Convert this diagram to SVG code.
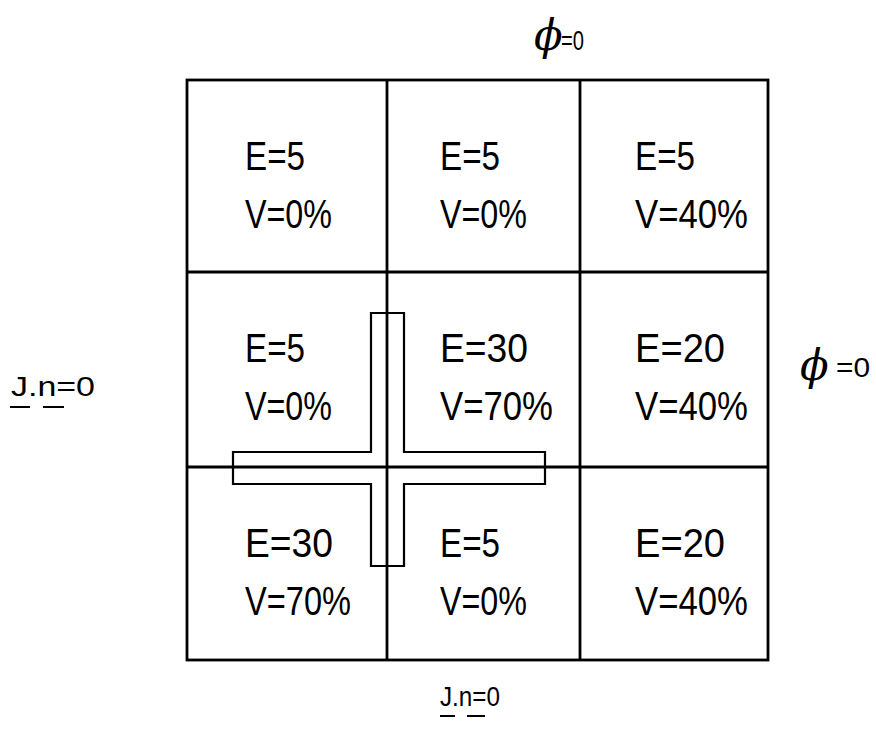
<svg xmlns="http://www.w3.org/2000/svg" width="876" height="741" viewBox="0 0 876 741">
<style>
.grid{fill:none;stroke:#000;stroke-width:2.8}
.cross{fill:none;stroke:#000;stroke-width:2.2}
.t{font-family:"Liberation Sans","DejaVu Sans",sans-serif;font-size:40px;fill:#000}
.l{font-family:"Liberation Sans","DejaVu Sans",sans-serif;font-size:28px;fill:#000}
.phi{font-family:"DejaVu Serif","Liberation Serif",serif;font-style:italic;font-size:42px;fill:#000}
.ul{stroke:#000;stroke-width:2}
</style>
<rect width="876" height="741" fill="#fff"/>
<g id="cross">
<path class="cross" d="M371,313 H404 V452 H545 V484 H404 V566 H371 V484 H233 V452 H371 Z"/>
</g>
<g id="grid">
<rect class="grid" x="187" y="80" width="581" height="580"/>
<line class="grid" x1="387" y1="80" x2="387" y2="660"/>
<line class="grid" x1="580" y1="80" x2="580" y2="660"/>
<line class="grid" x1="187" y1="272" x2="768" y2="272"/>
<line class="grid" x1="187" y1="467" x2="768" y2="467"/>
</g>
<g id="cell11"><text class="t" x="245" y="170" textLength="60" lengthAdjust="spacingAndGlyphs">E=5</text><text class="t" x="245" y="228" textLength="87" lengthAdjust="spacingAndGlyphs">V=0%</text></g>
<g id="cell12"><text class="t" x="440" y="170" textLength="60" lengthAdjust="spacingAndGlyphs">E=5</text><text class="t" x="440" y="228" textLength="87" lengthAdjust="spacingAndGlyphs">V=0%</text></g>
<g id="cell13"><text class="t" x="635" y="170" textLength="60" lengthAdjust="spacingAndGlyphs">E=5</text><text class="t" x="635" y="228" textLength="113" lengthAdjust="spacingAndGlyphs">V=40%</text></g>
<g id="cell21"><text class="t" x="245" y="362" textLength="60" lengthAdjust="spacingAndGlyphs">E=5</text><text class="t" x="245" y="420" textLength="87" lengthAdjust="spacingAndGlyphs">V=0%</text></g>
<g id="cell22"><text class="t" x="440" y="362" textLength="88" lengthAdjust="spacingAndGlyphs">E=30</text><text class="t" x="440" y="420" textLength="113" lengthAdjust="spacingAndGlyphs">V=70%</text></g>
<g id="cell23"><text class="t" x="635" y="362" textLength="90" lengthAdjust="spacingAndGlyphs">E=20</text><text class="t" x="635" y="420" textLength="113" lengthAdjust="spacingAndGlyphs">V=40%</text></g>
<g id="cell31"><text class="t" x="245" y="557" textLength="88" lengthAdjust="spacingAndGlyphs">E=30</text><text class="t" x="245" y="615" textLength="106" lengthAdjust="spacingAndGlyphs">V=70%</text></g>
<g id="cell32"><text class="t" x="440" y="557" textLength="60" lengthAdjust="spacingAndGlyphs">E=5</text><text class="t" x="440" y="615" textLength="87" lengthAdjust="spacingAndGlyphs">V=0%</text></g>
<g id="cell33"><text class="t" x="635" y="557" textLength="90" lengthAdjust="spacingAndGlyphs">E=20</text><text class="t" x="635" y="615" textLength="113" lengthAdjust="spacingAndGlyphs">V=40%</text></g>
<g id="label-top"><text class="phi" x="534" y="50">ϕ</text><text class="l" x="561" y="50" textLength="23" lengthAdjust="spacingAndGlyphs">=0</text></g>
<g id="label-right"><text class="phi" x="800" y="380">ϕ</text><text class="l" x="836" y="377" textLength="34" lengthAdjust="spacingAndGlyphs">=0</text></g>
<g id="label-left"><text class="l" x="11" y="396" textLength="84" lengthAdjust="spacingAndGlyphs">J.n=0</text><line class="ul" x1="10" y1="407" x2="30" y2="407"/><line class="ul" x1="43" y1="407" x2="64" y2="407"/></g>
<g id="label-bottom"><text class="l" x="440" y="706" textLength="60" lengthAdjust="spacingAndGlyphs">J.n=0</text><line class="ul" x1="440" y1="716" x2="455" y2="716"/><line class="ul" x1="467" y1="716" x2="485" y2="716"/></g>
</svg>
